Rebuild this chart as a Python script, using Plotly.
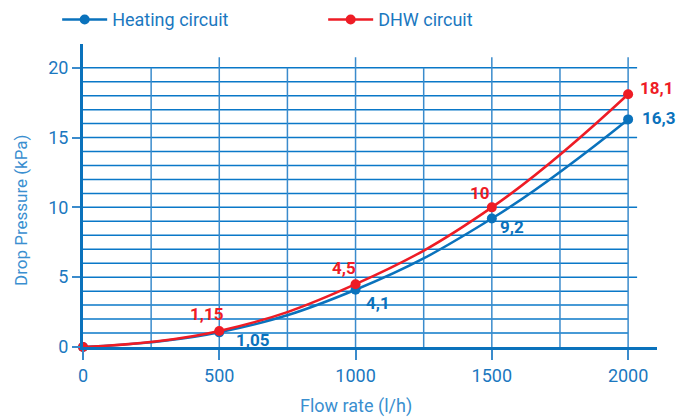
import plotly.graph_objects as go

# ---- data ----
flow_rate = [0, 500, 1000, 1500, 2000]
heating = [0, 1.05, 4.1, 9.2, 16.3]
dhw = [0, 1.15, 4.5, 10, 18.1]
heating_labels = ["", "1,05", "4,1", "9,2", "16,3"]
dhw_labels = ["", "1,15", "4,5", "10", "18,1"]
x_ticks = [0, 500, 1000, 1500, 2000]
y_ticks = [0, 5, 10, 15, 20]

BLUE = "#0a72bc"
RED = "#ee1c25"
TXT = "#1b78c0"
GRID_H = "#0a78c8"
GRID_V = "#3a8bcc"
FONT = "Roboto"

fig = go.Figure()
fig.add_trace(go.Scatter(x=flow_rate, y=heating, mode="lines+markers", name="Heating circuit",
                         line=dict(color=BLUE, width=2.5, shape="spline", smoothing=1.2),
                         marker=dict(size=10, color=BLUE), cliponaxis=False))
fig.add_trace(go.Scatter(x=flow_rate, y=dhw, mode="lines+markers", name="DHW circuit",
                         line=dict(color=RED, width=2.5, shape="spline", smoothing=1.2),
                         marker=dict(size=10, color=RED), cliponaxis=False))

# grid lines (minor every 1 kPa / 250 l/h, majors slightly extended)
shapes = []
for v in range(1, 21):
    major = v % 5 == 0
    shapes.append(dict(type="line", xref="x", yref="y", x0=0, x1=2033 if major else 2000,
                       y0=v, y1=v, line=dict(color=GRID_H, width=1.5), layer="below"))
for v in range(250, 2001, 250):
    major = v % 500 == 0
    shapes.append(dict(type="line", xref="x", yref="y", x0=v, x1=v, y0=0,
                       y1=20.75 if major else 20, line=dict(color=GRID_V, width=1.5), layer="below"))
fig.update_layout(shapes=shapes)

annotations = []
h_shift = [None, (34, -8), (22, -13), (20, -8), (30, 1)]
d_shift = [None, (-12, 17), (-12, 16), (-12, 14), (28, 6)]
for i in range(1, len(flow_rate)):
    annotations.append(dict(x=flow_rate[i], y=heating[i], text=heating_labels[i], showarrow=False,
                            xshift=h_shift[i][0], yshift=h_shift[i][1],
                            font=dict(family=FONT, size=17, color=BLUE, weight="bold")))
    annotations.append(dict(x=flow_rate[i], y=dhw[i], text=dhw_labels[i], showarrow=False,
                            xshift=d_shift[i][0], yshift=d_shift[i][1],
                            font=dict(family=FONT, size=17, color=RED, weight="bold")))
annotations.append(dict(xref="paper", yref="paper", x=(356 - 83) / 574, y=-(406 - 347) / 303,
                        text="Flow rate (l/h)", showarrow=False, xanchor="center", yanchor="middle",
                        font=dict(family=FONT, size=18, color="#3a8fd0")))
annotations.append(dict(xref="paper", yref="paper", x=-(83 - 21) / 574, y=(347 - 210) / 303,
                        text="Drop Pressure (kPa)", showarrow=False, textangle=-90,
                        xanchor="center", yanchor="middle",
                        font=dict(family=FONT, size=17, color="#3a8fd0")))
fig.update_layout(annotations=annotations)

fig.update_layout(
    width=692, height=419,
    margin=dict(l=83, r=35, t=44, b=72, autoexpand=False),
    paper_bgcolor="white", plot_bgcolor="white",
    font=dict(family=FONT, color=TXT),
    legend=dict(orientation="h", x=-0.045, xanchor="left", y=1.08, yanchor="middle",
                font=dict(family=FONT, size=18, color=TXT), entrywidth=206, entrywidthmode="pixels",
                itemwidth=45, bgcolor="rgba(0,0,0,0)"),
    xaxis=dict(range=[0, 2106], tickvals=x_ticks, showgrid=False, zeroline=False,
               showline=True, linecolor=BLUE, linewidth=3, ticks="outside", ticklen=10,
               tickcolor=GRID_V, tickwidth=1.5, tickfont=dict(family=FONT, size=18, color=TXT)),
    yaxis=dict(range=[0, 21.7], tickvals=y_ticks, showgrid=False, zeroline=False,
               showline=True, linecolor=BLUE, linewidth=3, ticks="outside", ticklen=8,
               tickcolor=GRID_V, tickwidth=1.5, tickfont=dict(family=FONT, size=18, color=TXT)),
)

fig.write_html("out.html", config={"displayModeBar": False},
               post_script="document.body.style.margin='0';")
